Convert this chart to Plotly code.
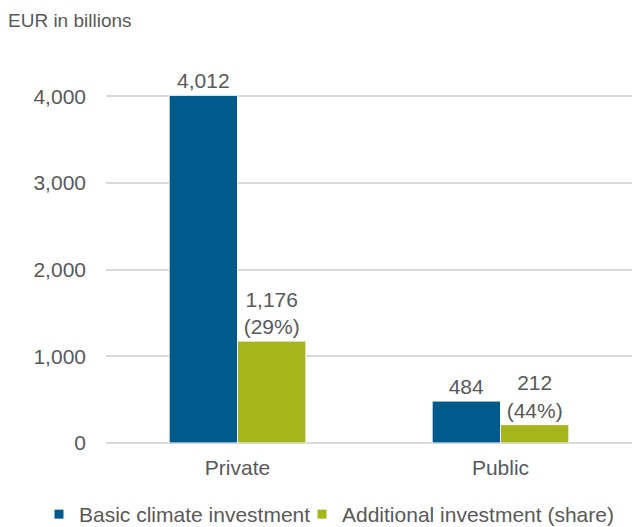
import plotly.graph_objects as go

categories = ["Private", "Public"]
basic = [4012, 484]
additional = [1176, 212]
additional_share = ["29%", "44%"]
series_names = ["Basic climate investment", "Additional investment (share)"]
colors = ["#005A8C", "#A6B51B"]

def fmt(v):
    return f"{v:,}"

FONT = "Liberation Sans, Arial"
GRAY = "#595959"
FS = 21

W, H = 632, 527
ML, MR, MT, MB = 106, 0, 53, 84
PW, PH = W - ML - MR, H - MT - MB

fig = go.Figure()
labels = [
    [fmt(v) for v in basic],
    [f"{fmt(v)}<br>({s})" for v, s in zip(additional, additional_share)],
]
for i, vals in enumerate([basic, additional]):
    grp = f"g{i}"
    fig.add_trace(go.Bar(
        x=categories, y=vals, name=series_names[i], legendgroup=grp,
        showlegend=False,
        marker=dict(color=colors[i], line=dict(color="white", width=1)),
        text=labels[i], textposition="outside",
        textfont=dict(size=FS, color=GRAY), cliponaxis=False,
    ))
    # legend entry (small square marker like the reference)
    fig.add_trace(go.Scatter(
        x=[None], y=[None], mode="markers", name=series_names[i],
        legendgroup=grp, legend="legend" if i == 0 else "legend2",
        marker=dict(symbol="square", size=9, color=colors[i]),
        hoverinfo="skip",
    ))

leg_common = dict(orientation="h", yanchor="bottom", y=-(MB + 8) / PH,
                  xanchor="left", font=dict(size=FS, color=GRAY),
                  itemwidth=30, bgcolor="rgba(0,0,0,0)")

fig.update_layout(
    width=W, height=H,
    margin=dict(l=ML, r=MR, t=MT, b=MB, autoexpand=False),
    paper_bgcolor="white", plot_bgcolor="white",
    font=dict(family=FONT, color=GRAY, size=FS),
    barmode="group", bargap=0.48, bargroupgap=0.0,
    showlegend=True,
    legend=dict(x=(39 - ML) / PW, **leg_common),
    legend2=dict(x=(302 - ML) / PW, **leg_common),
    annotations=[dict(text="EUR in billions", xref="paper", yref="paper",
                      x=-(ML - 6) / PW, y=1 + (MT - 20) / PH,
                      xanchor="left", yanchor="middle", showarrow=False,
                      font=dict(size=19, color=GRAY))],
)
fig.update_yaxes(range=[0, 4500], tickvals=[0, 1000, 2000, 3000, 4000],
                 tickformat=",", showgrid=True, gridcolor="#D9D9D9", gridwidth=2,
                 zeroline=True, zerolinecolor="#D9D9D9", zerolinewidth=2,
                 ticks="", ticklabelstandoff=19, tickfont=dict(size=FS, color=GRAY))
fig.update_xaxes(showline=False, ticks="", ticklabelstandoff=10,
                 tickfont=dict(size=FS, color=GRAY))

fig.write_html("out.html")
